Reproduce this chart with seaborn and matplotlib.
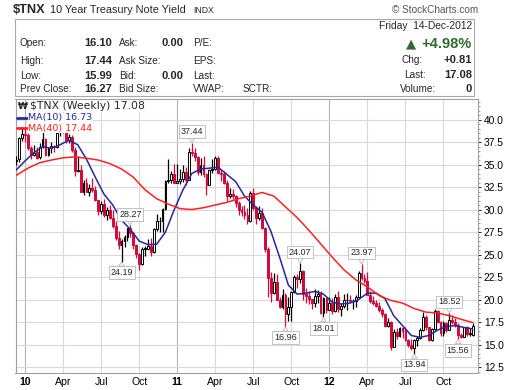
import numpy as np
import pandas as pd
import seaborn as sns
import matplotlib.pyplot as plt
from matplotlib.patches import Rectangle
from matplotlib.lines import Line2D
from matplotlib.ticker import MultipleLocator

sns.set_theme(style="white", rc={"figure.dpi": 100, "savefig.dpi": 100})
plt.rcParams['font.family'] = ['Liberation Sans', 'DejaVu Sans']

# one candle per week, week of 14-Dec-2009 .. week of 10-Dec-2012
weeks = pd.date_range('2009-12-14', periods=157, freq='W-MON')

opens = [
    35.5, 35.6, 37.9, 38.4, 38.3, 36.8, 36.1, 36.4, 35.8, 37.0,
    37.8, 36.1, 36.8, 37.1, 36.9, 38.6, 39.6, 38.8, 37.7, 38.1,
    36.6, 34.3, 34.4, 32.0, 33.0, 32.0, 32.4, 32.2, 31.1, 29.8,
    30.6, 29.4, 30.0, 29.1, 28.2, 26.8, 26.1, 26.5, 27.0, 27.9,
    27.4, 26.1, 25.1, 23.9, 25.6, 25.6, 26.0, 25.3, 27.8, 28.7,
    28.7, 30.1, 33.2, 33.3, 33.9, 33.0, 33.2, 33.4, 34.2, 33.3,
    36.4, 36.3, 35.8, 34.2, 34.9, 34.0, 32.7, 34.4, 34.5, 35.7,
    34.1, 33.9, 32.9, 31.5, 31.7, 31.5, 30.7, 30.0, 29.7, 29.4,
    28.7, 31.8, 30.2, 29.1, 29.6, 28.0, 25.6, 22.4, 20.7, 21.9,
    20.0, 19.2, 20.5, 18.4, 19.2, 20.8, 22.5, 22.3, 23.2, 20.6,
    20.4, 20.1, 19.6, 20.4, 20.6, 18.5, 20.2, 18.8, 19.6, 18.7,
    20.3, 18.9, 19.3, 19.9, 20.0, 19.8, 19.8, 20.3, 23.0, 22.4,
    22.1, 20.5, 19.8, 19.6, 19.3, 18.8, 18.4, 17.1, 17.5, 14.7,
    16.4, 15.9, 16.8, 16.5, 15.5, 14.9, 14.6, 15.5, 15.7, 16.6,
    18.1, 16.9, 15.5, 16.7, 18.7, 17.5, 16.3, 17.4, 16.6, 17.7,
    17.5, 17.2, 16.1, 15.8, 16.9, 16.2, 16.10,
]
highs = [
    36.0, 38.1, 39.1, 38.9, 38.5, 37.1, 37.2, 37.0, 37.4, 38.9,
    38.0, 37.0, 37.5, 37.2, 39.1, 39.7, 40.0, 39.3, 38.4, 38.3,
    36.9, 35.9, 35.0, 33.3, 33.5, 32.8, 33.5, 32.6, 31.1, 30.9,
    31.2, 30.3, 30.5, 29.9, 28.7, 27.6, 26.7, 27.2, 27.9, 28.27,
    27.5, 26.2, 25.2, 25.8, 25.9, 26.7, 26.8, 27.9, 29.5, 29.2,
    30.2, 33.3, 35.6, 34.3, 35.1, 35.1, 34.5, 34.9, 34.7, 36.8,
    37.44, 36.8, 35.9, 35.7, 35.9, 34.1, 34.5, 35.6, 35.9, 35.9,
    34.4, 34.3, 33.3, 32.4, 32.3, 31.6, 31.0, 30.4, 30.5, 30.2,
    32.1, 32.4, 30.4, 30.4, 30.2, 28.1, 25.8, 23.1, 23.0, 22.8,
    20.3, 21.2, 20.7, 20.3, 21.0, 22.7, 22.8, 24.07, 23.3, 21.3,
    21.0, 20.1, 21.2, 21.1, 21.0, 20.3, 20.2, 20.3, 20.2, 20.6,
    21.0, 19.6, 20.6, 20.7, 20.5, 20.1, 20.5, 23.2, 23.97, 22.8,
    23.1, 20.9, 20.4, 19.9, 19.7, 19.1, 18.5, 18.0, 17.6, 16.7,
    16.8, 16.9, 16.9, 16.9, 15.6, 15.6, 15.6, 15.9, 16.8, 18.6,
    18.3, 16.9, 16.8, 18.9, 18.8, 17.6, 17.6, 17.5, 18.52, 18.3,
    17.9, 17.4, 16.3, 17.0, 17.1, 16.8, 17.44,
]
lows = [
    34.9, 35.3, 37.6, 37.5, 36.6, 35.6, 35.9, 35.6, 35.6, 36.8,
    36.0, 35.9, 36.3, 36.4, 36.8, 38.2, 38.5, 37.4, 37.4, 36.4,
    33.7, 34.2, 31.9, 31.6, 31.9, 31.5, 31.9, 30.9, 29.4, 29.5,
    29.2, 28.8, 28.9, 28.0, 26.6, 25.6, 24.19, 25.8, 26.5, 27.0,
    25.6, 24.6, 23.3, 23.8, 24.8, 25.6, 24.8, 25.2, 27.6, 27.5,
    27.5, 29.9, 32.9, 32.9, 32.9, 32.9, 32.8, 33.1, 32.7, 33.3,
    35.9, 35.4, 33.8, 33.8, 33.6, 31.6, 32.7, 34.1, 34.4, 34.1,
    33.2, 32.8, 31.0, 31.3, 31.2, 30.3, 29.4, 29.3, 28.9, 28.4,
    28.6, 30.0, 28.4, 28.8, 27.8, 25.3, 20.3, 19.7, 20.6, 19.9,
    19.1, 18.9, 16.96, 17.6, 17.6, 20.7, 21.3, 21.8, 19.9, 19.6,
    19.5, 18.9, 19.2, 19.6, 18.4, 18.01, 18.5, 18.8, 18.4, 18.6,
    18.6, 18.2, 19.1, 18.8, 19.7, 19.0, 19.2, 20.2, 22.2, 21.8,
    20.5, 19.6, 19.4, 19.2, 18.6, 18.1, 16.9, 17.0, 14.4, 14.7,
    15.6, 15.8, 15.7, 15.4, 14.7, 14.4, 13.94, 14.8, 15.6, 16.5,
    16.6, 15.4, 15.4, 16.6, 17.4, 16.0, 16.0, 16.4, 16.6, 17.3,
    16.9, 15.56, 15.7, 15.8, 16.0, 15.9, 15.99,
]
closes = [
    35.4, 38.0, 38.4, 38.3, 36.8, 36.1, 36.3, 35.7, 36.9, 37.8,
    36.1, 36.8, 37.1, 36.9, 38.5, 39.5, 38.8, 37.7, 38.1, 36.6,
    34.3, 34.4, 32.0, 33.0, 32.0, 32.4, 32.2, 31.1, 29.8, 30.6,
    29.4, 30.0, 29.1, 28.2, 26.8, 26.1, 26.5, 27.0, 27.9, 27.4,
    26.1, 25.1, 23.9, 25.6, 25.6, 26.0, 25.3, 27.8, 28.7, 28.7,
    30.1, 33.2, 33.3, 33.9, 33.0, 33.2, 33.4, 34.2, 33.3, 36.4,
    36.3, 35.8, 34.2, 34.9, 34.0, 32.7, 34.4, 34.5, 35.7, 34.1,
    33.9, 32.9, 31.5, 31.7, 31.5, 30.7, 30.0, 29.7, 29.4, 28.7,
    31.8, 30.2, 29.1, 29.6, 28.0, 25.6, 22.4, 20.7, 21.9, 20.0,
    19.2, 20.5, 18.4, 19.2, 20.8, 22.5, 22.3, 23.2, 20.6, 20.4,
    20.1, 19.6, 20.4, 20.6, 18.5, 20.2, 18.8, 19.6, 18.7, 20.3,
    18.9, 19.3, 19.9, 20.0, 19.8, 19.8, 20.3, 23.0, 22.4, 22.1,
    20.5, 19.8, 19.6, 19.3, 18.8, 18.4, 17.1, 17.5, 14.7, 16.4,
    15.9, 16.8, 16.5, 15.5, 14.9, 14.6, 15.5, 15.7, 16.6, 18.1,
    16.9, 15.5, 16.7, 18.7, 17.5, 16.3, 17.4, 16.6, 17.7, 17.5,
    17.2, 16.1, 15.8, 16.9, 16.2, 16.27, 17.08,
]

# moving averages (every 3rd / 4th week)
ma10 = [
    34.4, 35.4, 36.3, 37.0, 36.8, 37.2, 37.7, 37.2, 35.6, 33.6,
    31.7, 30.5, 28.8, 27.8, 26.5, 26.1, 26.15, 27.5, 30.0, 32.2,
    34.0, 34.5, 34.6, 34.7, 33.9, 33.1, 31.5, 30.5, 29.7, 27.6,
    24.7, 21.6, 20.6, 20.7, 20.9, 20.6, 19.7, 19.5, 19.6, 20.0,
    20.7, 20.7, 20.1, 18.2, 17.1, 16.0, 15.8, 16.0, 16.6, 17.0,
    17.1, 16.9, 16.73,
]
ma40 = [
    33.8, 34.6, 35.2, 35.5, 35.75, 35.85, 35.7, 35.5, 35.1, 34.5,
    33.6, 32.2, 31.2, 30.6, 30.1, 30.0, 30.2, 30.5, 30.8, 31.2,
    31.5, 31.9, 31.5, 30.3, 29.1, 27.7, 26.2, 24.7, 23.3, 22.2,
    21.4, 20.45, 19.9, 19.6, 19.0, 18.6, 18.5, 18.2, 17.8, 17.44,
]

# labelled swing highs / lows (week numbers)
peak_weeks = [39, 60, 97, 118, 148]
trough_weeks = [36, 92, 105, 136, 151]

W, H = 520, 390
RED = '#d4093a'
BLUE = '#27279e'
MA_RED = '#ff1f1f'
GREEN = '#2f6b2f'

fig = plt.figure(figsize=(W / 100, H / 100))
ax = fig.add_axes([15.5 / W, (H - 373.3) / H, (478.3 - 15.5) / W, (373.3 - 99.3) / H])

o, h, l, c = map(np.array, (opens, highs, lows, closes))
x = np.arange(len(c))
prev = np.r_[c[0] - 0.1, c[:-1]]
edge = np.where(c >= prev, 'black', RED)
face = np.where(c > o, 'white', edge)
body_lo = np.minimum(o, c)
body_h = np.maximum(np.abs(c - o), 0.08)

ax.vlines(x, l, h, colors=edge, lw=0.9, zorder=3)
ax.bar(x, body_h, bottom=body_lo, width=0.62, color=face, edgecolor=edge,
       linewidth=0.7, zorder=4)

sns.lineplot(x=np.arange(0, len(c), 3), y=ma10, ax=ax, color=BLUE, lw=1.1,
             zorder=5, legend=False)
sns.lineplot(x=np.arange(0, len(c), 4), y=ma40, ax=ax, color=MA_RED, lw=1.1,
             zorder=5, legend=False)

ax.set_xlim(-0.25, 157.9)
ax.set_ylim(11.8, 42.25)

# quarter ticks on the first week of Jan / Apr / Jul / Oct
ticks, labels, is_year = [], [], []
for i in range(1, len(weeks)):
    m = weeks[i].month
    if m in (1, 4, 7, 10) and m != weeks[i - 1].month:
        ticks.append(i)
        labels.append(weeks[i].strftime('%y') if m == 1 else weeks[i].strftime('%b'))
        is_year.append(m == 1)
for t, yr in zip(ticks, is_year):
    ax.axvline(t, color='#b4b4b4' if yr else '#d9d9d9', lw=0.8, zorder=0.5)
ax.set_xticks(ticks, labels)
for lab, yr in zip(ax.get_xticklabels(), is_year):
    if yr:
        lab.set_fontweight('bold')
ax.tick_params(axis='x', length=0, pad=2.5, labelsize=7.6, colors='black')

ax.yaxis.tick_right()
ax.set_yticks(np.arange(12.5, 40.1, 2.5))
ax.yaxis.set_major_formatter(lambda v, p: f'{v:.1f}')
ax.yaxis.set_minor_locator(MultipleLocator(0.5))
ax.tick_params(axis='y', which='major', length=2, width=0.6, pad=2,
               labelsize=7.4, colors='black')
ax.tick_params(axis='y', which='minor', length=1.5, width=0.5, color='#777777')
ax.grid(axis='y', color='#d9d9d9', lw=0.8)
ax.set_axisbelow(True)
for sp in ax.spines.values():
    sp.set_color('#a0a0a0')
    sp.set_linewidth(0.8)

# swing labels
box = dict(boxstyle='square,pad=0.2', fc='white', ec='#b8b8b8', lw=0.6)
for i in peak_weeks:
    ax.annotate(f'{highs[i]:.2f}', xy=(i, highs[i]), xytext=(0, 7.8),
                textcoords='offset points', ha='center', va='center',
                fontsize=6.5, bbox=box, zorder=7,
                arrowprops=dict(arrowstyle='wedge,tail_width=0.6', fc='white',
                                ec='#b8b8b8', lw=0.6, shrinkA=0, shrinkB=0,
                                relpos=(0.5, 0)))
for i in trough_weeks:
    ax.annotate(f'{lows[i]:.2f}', xy=(i, lows[i]), xytext=(0, -7.8),
                textcoords='offset points', ha='center', va='center',
                fontsize=6.5, bbox=box, zorder=7,
                arrowprops=dict(arrowstyle='wedge,tail_width=0.6', fc='white',
                                ec='#b8b8b8', lw=0.6, shrinkA=0, shrinkB=0,
                                relpos=(0.5, 1)))


def put(px, py, s, **kw):
    kw.setdefault('va', 'center')
    return fig.text(px / W, 1 - py / H, s, **kw)


# legend inside the price panel
wb = dict(boxstyle='square,pad=0.05', fc='white', ec='none')
put(18, 106.5, '\u20a9', fontsize=6.5, fontweight='bold', family='DejaVu Sans')
put(30.5, 106.5, '$TNX (Weekly) 17.08', fontsize=7.8, family='DejaVu Sans', bbox=wb)
put(28.3, 117.7, 'MA(10) 16.73', fontsize=6.8, color=BLUE, family='DejaVu Sans', bbox=wb)
put(28.3, 128.3, 'MA(40) 17.44', fontsize=6.8, color=MA_RED, family='DejaVu Sans', bbox=wb)
for yy, col in ((117.7, BLUE), (128.3, MA_RED)):
    fig.add_artist(Line2D([16.5 / W, 27 / W], [1 - yy / H] * 2, color=col, lw=2,
                          transform=fig.transFigure))

# header
put(13, 10, '$TNX', fontsize=9.2, fontweight='bold')
put(50, 10, '10 Year Treasury Note Yield', fontsize=7.8)
put(193, 10.5, 'INDX', fontsize=6.2)
put(478, 10, '\u00a9 StockCharts.com', fontsize=7.2, ha='right', color='#555555')

fig.add_artist(Rectangle((15 / W, 1 - 96 / H), (474 - 15) / W, (96 - 19) / H,
                         fill=False, ec='#a8a8a8', lw=0.8, transform=fig.transFigure))

rows = [43.5, 60.5, 75.8, 89.3]
left_lab = ['Open:', 'High:', 'Low:', 'Prev Close:']
left_val = ['16.10', '17.44', '15.99', '16.27']
mid_lab = ['Ask:', 'Ask Size:', 'Bid:', 'Bid Size:']
mid_val = ['0.00', '', '0.00', '']
third_lab = ['P/E:', 'EPS:', 'Last:', 'VWAP:']
for yy, a, av, b, bv, t in zip(rows, left_lab, left_val, mid_lab, mid_val, third_lab):
    put(20, yy, a, fontsize=7.2)
    put(112, yy, av, fontsize=8, fontweight='bold', ha='right')
    put(119, yy, b, fontsize=7.2)
    if bv:
        put(183, yy, bv, fontsize=8, fontweight='bold', ha='right')
    put(193, yy, t, fontsize=7.2)
put(243, rows[3], 'SCTR:', fontsize=7.2)

put(472, 26, 'Friday  14-Dec-2012', fontsize=7.4, ha='right')
put(406, 43.5, '\u25b2', fontsize=9.5, color=GREEN, family='DejaVu Sans')
put(472, 43.5, '+4.98%', fontsize=10.5, fontweight='bold', ha='right', color=GREEN)
put(402, 60, 'Chg:', fontsize=7.2)
put(472, 60, '+0.81', fontsize=8, fontweight='bold', ha='right')
put(404, 75, 'Last:', fontsize=7.2)
put(472, 75, '17.08', fontsize=8, fontweight='bold', ha='right')
put(400, 89.3, 'Volume:', fontsize=7.2)
put(472, 89.3, '0', fontsize=8, fontweight='bold', ha='right')

fig.savefig('out.png', dpi=100, facecolor='white')
